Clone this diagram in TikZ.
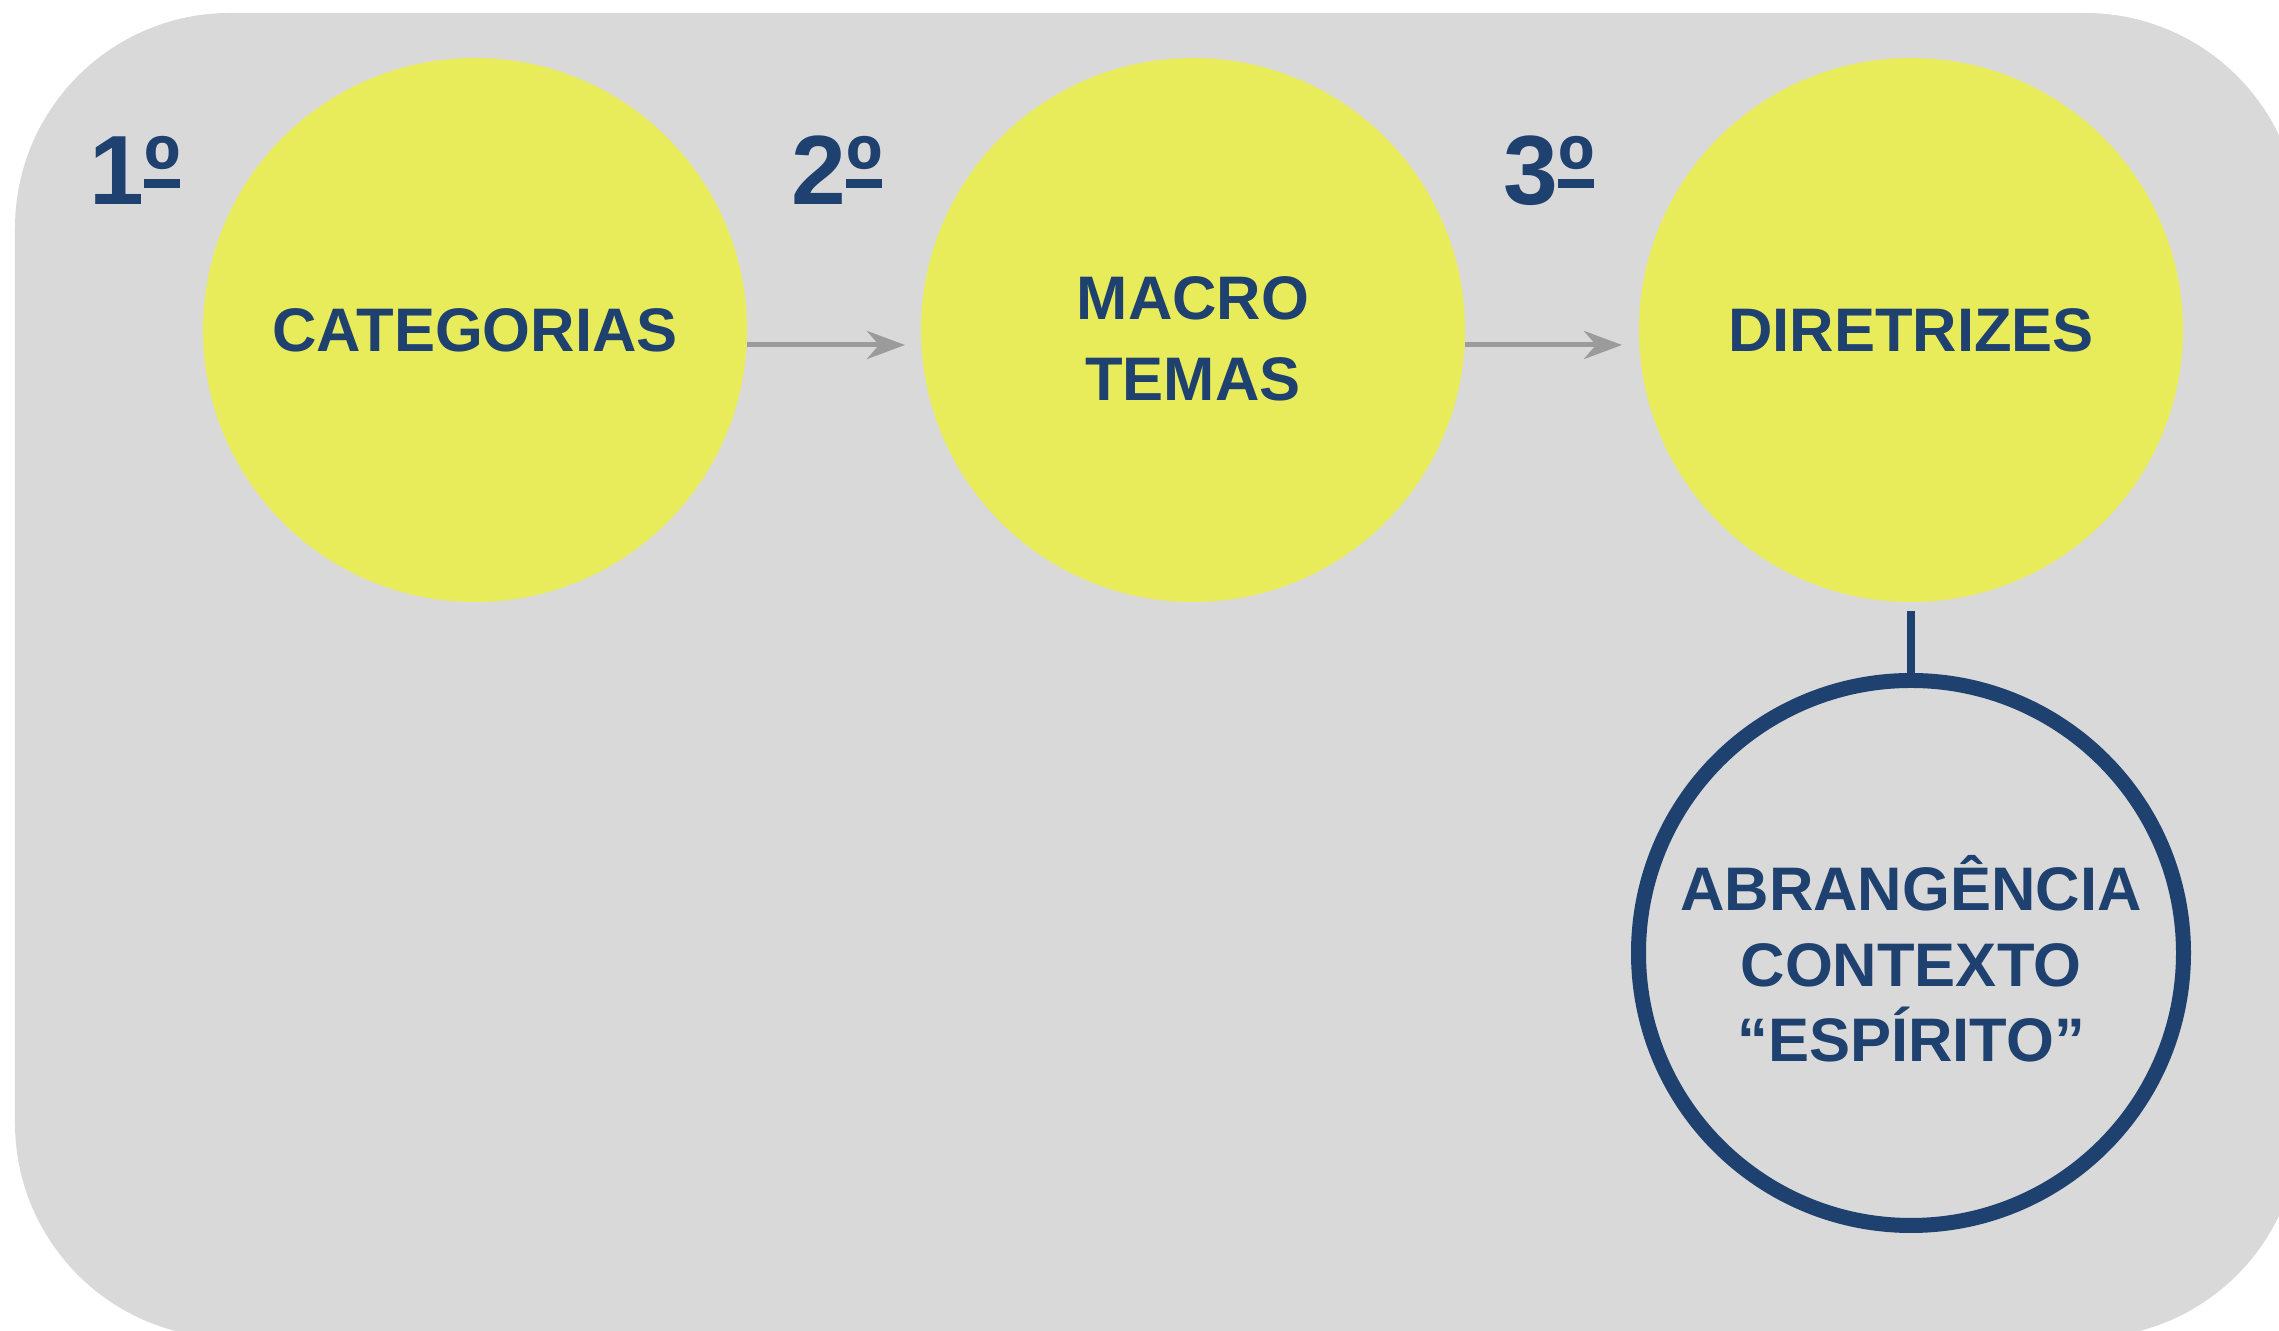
\documentclass[tikz,border=0pt]{standalone}
\usepackage{fontspec}
\setmainfont{Liberation Sans}
\usepackage{xcolor}
\usepackage{tikz}
\usetikzlibrary{arrows.meta, positioning}
\definecolor{navy}{HTML}{1F4170}
\definecolor{lemon}{HTML}{E9EC5A}
\definecolor{panel}{HTML}{D9D9D9}
\definecolor{arrowgray}{HTML}{9B9B9B}
% ordinal sign with its bar underneath
\newlength{\ordwd}
\newcommand{\ordmark}{\settowidth{\ordwd}{º}\rlap{\rule[0.17cm]{\ordwd}{0.09cm}}º}
\tikzset{
  stage/.style={circle, fill=lemon, minimum size=5.44cm, inner sep=0pt, outer sep=0pt, align=center, text=navy, font=\fontsize{17.5}{23}\selectfont\bfseries},
  focus/.style={circle, draw=navy, line width=0.15cm, minimum size=5.45cm, inner sep=0pt, outer sep=0.075cm, align=center, text=navy, font=\fontsize{17.5}{21.5}\selectfont\bfseries},
  order/.style={anchor=base, text=navy, font=\fontsize{28}{28}\selectfont\bfseries},
  arrow/.style={-{Stealth[length=0.38cm, width=0.28cm, inset=0.12cm]}, line width=0.05cm, arrowgray},
  link/.style={line width=0.08cm, navy},
}

\begin{document}
\begin{tikzpicture}
    \useasboundingbox (0,0) rectangle (22.79,13.31);
    \clip (0,0) rectangle (22.79,13.31);
    \fill[panel, rounded corners=2.15cm] (0.15,-0.07) rectangle (23.00,13.18);
    \node[stage] (cat) at (4.75,10.01) {CATEGORIAS};
    \node[stage, right=1.74cm of cat] (macro) {\rule{0pt}{17.4pt}MACRO\\TEMAS};
    \node[stage, right=1.74cm of macro] (dir) {DIRETRIZES};
    \node[focus, below=0.71cm of dir] (ring) {\rule{0pt}{19pt}ABRANGÊNCIA\\CONTEXTO\\“ESPÍRITO”};
    \node[order] (first) at (1.35,11.26) {1\ordmark};
    \node[order] (second) at (8.37,11.26) {2\ordmark};
    \node[order] (third) at (15.49,11.26) {3\ordmark};
    \draw[arrow, shorten >=0.16cm] ([yshift=-0.15cm]cat.east) -- ([yshift=-0.15cm]macro.west);
    \draw[arrow, shorten >=0.17cm] ([yshift=-0.15cm]macro.east) -- ([yshift=-0.15cm]dir.west);
    \draw[link, shorten <=0.09cm] (dir) -- (ring);
  \end{tikzpicture}
\end{document}
